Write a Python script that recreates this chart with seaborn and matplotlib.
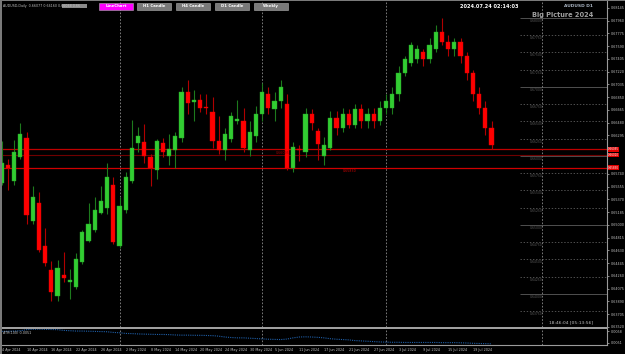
import numpy as np
import pandas as pd
import matplotlib
matplotlib.use("Agg")
import matplotlib.pyplot as plt
import matplotlib.transforms as mtrans
import seaborn as sns

# ---------------- data ----------------
opens = [0.6561, 0.6586, 0.6563, 0.6599, 0.6626, 0.6505, 0.6532, 0.6470, 0.6434, 0.6397,
         0.6427, 0.6417, 0.6410, 0.6446, 0.6476, 0.6493, 0.6517, 0.6524, 0.6558, 0.6470,
         0.6521, 0.6563, 0.6618, 0.6620, 0.6599, 0.6579, 0.6619, 0.6600, 0.6609, 0.6626,
         0.6693, 0.6678, 0.6681, 0.6670, 0.6664, 0.6622, 0.6608, 0.6625, 0.6650, 0.6651,
         0.6609, 0.6628, 0.6660, 0.6690, 0.6668, 0.6680, 0.6675, 0.6583, 0.6610, 0.6606,
         0.6660, 0.6636, 0.6600, 0.6612, 0.6655, 0.6640, 0.6660, 0.6645, 0.6668, 0.6650,
         0.6660, 0.6650, 0.6670, 0.6670, 0.6690, 0.6720, 0.6735, 0.6740, 0.6750, 0.6740,
         0.6755, 0.6780, 0.6765, 0.6755, 0.6765, 0.6745, 0.6720, 0.6690, 0.6670, 0.6640]
highs = [0.6621, 0.6595, 0.6623, 0.6647, 0.6635, 0.6556, 0.6547, 0.6496, 0.6447, 0.6449,
         0.6460, 0.6436, 0.6459, 0.6493, 0.6532, 0.6541, 0.6557, 0.6589, 0.6570, 0.6541,
         0.6576, 0.6652, 0.6642, 0.6646, 0.6602, 0.6625, 0.6626, 0.6631, 0.6634, 0.6700,
         0.6710, 0.6695, 0.6690, 0.6690, 0.6685, 0.6657, 0.6641, 0.6663, 0.6681, 0.6670,
         0.6650, 0.6672, 0.6705, 0.6700, 0.6692, 0.6710, 0.6690, 0.6620, 0.6616, 0.6670,
         0.6668, 0.6640, 0.6627, 0.6665, 0.6665, 0.6670, 0.6668, 0.6675, 0.6675, 0.6670,
         0.6670, 0.6680, 0.6690, 0.6700, 0.6730, 0.6745, 0.6765, 0.6760, 0.6755, 0.6770,
         0.6790, 0.6800, 0.6775, 0.6770, 0.6770, 0.6750, 0.6725, 0.6700, 0.6680, 0.6650]
lows = [0.6558, 0.6551, 0.6558, 0.6595, 0.6501, 0.6501, 0.6460, 0.6440, 0.6389, 0.6389,
        0.6417, 0.6392, 0.6407, 0.6443, 0.6475, 0.6489, 0.6515, 0.6515, 0.6472, 0.6467,
        0.6517, 0.6560, 0.6605, 0.6590, 0.6556, 0.6567, 0.6599, 0.6587, 0.6583, 0.6620,
        0.6660, 0.6651, 0.6664, 0.6661, 0.6612, 0.6602, 0.6594, 0.6620, 0.6646, 0.6605,
        0.6600, 0.6620, 0.6650, 0.6660, 0.6650, 0.6670, 0.6580, 0.6577, 0.6592, 0.6599,
        0.6638, 0.6594, 0.6587, 0.6609, 0.6630, 0.6635, 0.6640, 0.6640, 0.6640, 0.6640,
        0.6640, 0.6645, 0.6660, 0.6660, 0.6680, 0.6715, 0.6730, 0.6735, 0.6730, 0.6735,
        0.6750, 0.6760, 0.6745, 0.6745, 0.6735, 0.6710, 0.6680, 0.6660, 0.6630, 0.6610]
closes = [0.6590, 0.6582, 0.6606, 0.6631, 0.6514, 0.6540, 0.6464, 0.6444, 0.6402, 0.6437,
          0.6423, 0.6420, 0.6451, 0.6489, 0.6501, 0.6521, 0.6535, 0.6569, 0.6475, 0.6527,
          0.6569, 0.6612, 0.6628, 0.6600, 0.6582, 0.6622, 0.6606, 0.6610, 0.6629, 0.6693,
          0.6676, 0.6681, 0.6670, 0.6669, 0.6621, 0.6609, 0.6631, 0.6657, 0.6653, 0.6612,
          0.6635, 0.6660, 0.6692, 0.6670, 0.6680, 0.6700, 0.6583, 0.6613, 0.6608, 0.6660,
          0.6648, 0.6617, 0.6615, 0.6655, 0.6640, 0.6660, 0.6645, 0.6668, 0.6650, 0.6660,
          0.6650, 0.6670, 0.6680, 0.6690, 0.6720, 0.6740, 0.6760, 0.6755, 0.6740, 0.6760,
          0.6780, 0.6765, 0.6755, 0.6765, 0.6745, 0.6720, 0.6690, 0.6670, 0.6640, 0.6615]
atr_values = [0.00578, 0.00579, 0.00580, 0.00582, 0.00588, 0.00590, 0.00591, 0.00590, 0.00589, 0.00588,
              0.00584, 0.00582, 0.00580, 0.00580, 0.00579, 0.00578, 0.00577, 0.00576, 0.00572, 0.00570,
              0.00566, 0.00565, 0.00563, 0.00562, 0.00561, 0.00560, 0.00560, 0.00559, 0.00557, 0.00556,
              0.00556, 0.00555, 0.00555, 0.00554, 0.00553, 0.00550, 0.00545, 0.00542, 0.00540, 0.00540,
              0.00538, 0.00536, 0.00534, 0.00532, 0.00531, 0.00530, 0.00533, 0.00540, 0.00545, 0.00546,
              0.00545, 0.00543, 0.00540, 0.00535, 0.00532, 0.00530, 0.00528, 0.00524, 0.00522, 0.00520,
              0.00518, 0.00516, 0.00515, 0.00514, 0.00514, 0.00513, 0.00513, 0.00513, 0.00513, 0.00513,
              0.00513, 0.00512, 0.00512, 0.00512, 0.00511, 0.00510, 0.00508, 0.00507, 0.00506, 0.00505]
date_labels = ["4 Apr 2024", "10 Apr 2024", "16 Apr 2024", "22 Apr 2024", "26 Apr 2024",
               "2 May 2024", "8 May 2024", "14 May 2024", "20 May 2024", "24 May 2024",
               "30 May 2024", "5 Jun 2024", "11 Jun 2024", "17 Jun 2024", "21 Jun 2024",
               "27 Jun 2024", "3 Jul 2024", "9 Jul 2024", "15 Jul 2024", "19 Jul 2024"]
date_label_bars = [0, 4, 8, 12, 16, 20, 24, 28, 32, 36, 40, 44, 48, 52, 56, 60, 64, 68, 72, 76]
separator_bars = [19, 42, 62, 87.1]
# visible price-scale labels (the ones under the red price boxes are hidden)
price_ticks = [0.68145, 0.67960, 0.67775, 0.67590, 0.67405, 0.67220, 0.67035, 0.66850,
               0.66665, 0.66480, 0.66295, 0.65740, 0.65555, 0.65370,
               0.65185, 0.65000, 0.64815, 0.64630, 0.64445, 0.64260, 0.64075, 0.63890,
               0.63705, 0.63520]
round_levels = [0.6800, 0.6775, 0.6750, 0.6725, 0.6700, 0.6675, 0.6650, 0.6625, 0.6600,
                0.6575, 0.6550, 0.6525, 0.6500, 0.6475, 0.6450, 0.6425, 0.6400, 0.6375]
red_levels = [0.66095, 0.66010, 0.65830]
red_level_labels = ["0.66095", "0.66010", "0.65830"]
atr_ticks = [0.0058, 0.0051]

df = pd.DataFrame({"bar": np.arange(len(opens)), "open": opens, "high": highs,
                   "low": lows, "close": closes, "atr": atr_values})
df["up"] = df["close"] >= df["open"]

# ---------------- style ----------------
sns.set_theme(style="dark", rc={"axes.facecolor": "black", "figure.facecolor": "black"})
plt.rcParams["font.family"] = ["DejaVu Sans"]

W, H = 625, 354
AX_R = 607  # x pixel of the price-axis line
fig = plt.figure(figsize=(W / 100, H / 100), dpi=100)
fig.patch.set_facecolor("black")

ax = fig.add_axes([1 / W, 1 - 327 / H, (AX_R - 1) / W, 326 / H])
axi = fig.add_axes([1 / W, 1 - 345 / H, (AX_R - 1) / W, 17 / H], sharex=ax)

XL = (-0.113, (AX_R - 1.7) / 6.2)
YL = (0.63532, 0.68243)
ax.set_xlim(*XL)
ax.set_ylim(*YL)

GREEN = "#32CD32"
RED = "#FF0000"
gw = "#1d7a1d"
rw = "#b00000"
TXT = "#c0c0c0"
FS = 2.4

# wicks
ax.vlines(df["bar"], df["low"], df["high"],
          colors=[gw if u else rw for u in df["up"]], lw=0.8, zorder=3)
# bodies
body_bottom = np.minimum(df["open"], df["close"])
body_h = np.maximum(np.abs(df["close"] - df["open"]), 0.00012)
ax.bar(df["bar"], body_h, bottom=body_bottom, width=0.68,
       color=[GREEN if u else RED for u in df["up"]],
       edgecolor=["#27a327" if u else "#e00000" for u in df["up"]], lw=0.3, zorder=4)

# red horizontal levels
for lv, c, lw in zip(red_levels, ["#c00000", "#700000", "#d00000"], [0.9, 0.8, 0.9]):
    ax.axhline(lv, color=c, lw=lw, zorder=2)
ax.text(44.2, red_levels[0] - 0.00022, red_level_labels[0], color="#a00000", fontsize=2.3,
        va="top", ha="left", zorder=5)
ax.text(55.0, red_levels[2] - 0.00022, red_level_labels[2], color="#d00000", fontsize=2.3,
        va="top", ha="left", zorder=5)

# round-number levels in the right margin
for lv in round_levels:
    solid = abs(round(lv * 100) - lv * 100) < 1e-6
    ax.hlines(lv, 83.6, XL[1], colors="#707070", lw=0.5,
              linestyles="-" if solid else (0, (2, 2.5)), zorder=1)
    ax.text(85.2, lv - 0.00045, f"{lv:.5f}", color="#5c5c5c", fontsize=2.2,
            ha="left", va="center", zorder=2)

# vertical period separators
for sb in separator_bars:
    for a in (ax, axi):
        a.axvline(sb, color="#8c8c8c", lw=0.6, ls=(0, (2, 2)), zorder=1)

# right price axis
ax.yaxis.tick_right()
ax.set_yticks(price_ticks)
ax.set_yticklabels([f"{t:.5f}" for t in price_ticks])
ax.tick_params(axis="y", colors=TXT, labelsize=FS, length=1.5, width=0.5, pad=1)
ax.tick_params(axis="x", bottom=False, labelbottom=False)
for s in ["top", "left", "bottom"]:
    ax.spines[s].set_visible(False)
ax.spines["right"].set_color("#9a9a9a")
ax.spines["right"].set_linewidth(0.8)
ax.grid(False)

# red price boxes on the axis
tr = mtrans.blended_transform_factory(ax.transAxes, ax.transData)
for lv, lab in zip(red_levels, red_level_labels):
    ax.text(1.002, lv, lab, transform=tr, color="white", fontsize=2.0, va="center", ha="left",
            bbox=dict(boxstyle="square,pad=0.1", fc="#e00000", ec="none"), zorder=6,
            clip_on=False)

# ---------------- ATR sub-window ----------------
sns.lineplot(data=df, x="bar", y="atr", ax=axi, color="#1f5fa8", lw=0.8,
             linestyle=(0, (1, 1)), legend=False)
axi.set_ylim(0.00498, 0.00598)
axi.set_xlim(*XL)
axi.yaxis.tick_right()
axi.set_yticks(atr_ticks)
axi.set_yticklabels([f"{t:.4f}" for t in atr_ticks])
axi.tick_params(axis="y", colors=TXT, labelsize=FS, length=1.5, width=0.5, pad=1)
axi.set_xticks(date_label_bars)
axi.set_xticklabels(date_labels, ha="left")
axi.tick_params(axis="x", colors=TXT, labelsize=FS, length=1.5, width=0.5, pad=1)
axi.set_xlabel("")
axi.set_ylabel("")
axi.grid(False)
for s in ["top", "left"]:
    axi.spines[s].set_visible(False)
for s in ["right", "bottom"]:
    axi.spines[s].set_color("#9a9a9a")
    axi.spines[s].set_linewidth(0.8)
axi.text(0.004, 0.85, "ATR(100) 0.0051", transform=axi.transAxes, color=TXT,
         fontsize=2.4, va="top", ha="left")

# separator band between windows and outer frame lines
fig.add_artist(plt.Rectangle((0, 1 - 328.5 / H), AX_R / W, 2 / H, transform=fig.transFigure,
                             color="#a0a0a0", lw=0))
fig.add_artist(plt.Rectangle((0, 0), 1.6 / W, 1, transform=fig.transFigure, color="#7a7a7a", lw=0))
fig.add_artist(plt.Rectangle((0, 1 - 1.2 / H), 1, 1.2 / H, transform=fig.transFigure,
                             color="#7a7a7a", lw=0))

# ---------------- texts / buttons ----------------
fig.text(3 / W, 1 - 5.5 / H, "AUDUSD,Daily  0.66077 0.66160 0.66038 0.66",
         color=TXT, fontsize=2.3, va="center", ha="left")
fig.add_artist(plt.Rectangle((62 / W, 1 - 8 / H), 25 / W, 4.5 / H, transform=fig.transFigure,
                             color="#8a8a8a", lw=0))
buttons = [("LineChart", 99, "#ff00ff"), ("H1 Candle", 137, "#7a7a7a"),
           ("H4 Candle", 176, "#7a7a7a"), ("D1 Candle", 215, "#7a7a7a"),
           ("Weekly", 254, "#7a7a7a")]
for lab, x0, col in buttons:
    fig.add_artist(plt.Rectangle((x0 / W, 1 - 9.5 / H), 34 / W, 7 / H, transform=fig.transFigure,
                                 fc=col, ec="#b0b0b0", lw=0.4))
    fig.text((x0 + 17) / W, 1 - 6 / H, lab, color="white", fontsize=2.8, weight="bold",
             ha="center", va="center")

fig.text(518 / W, 1 - 6 / H, "2024.07.24 02:14:03", color="white", fontsize=3.6,
         weight="bold", ha="right", va="center")
fig.text(593 / W, 1 - 6 / H, "AUDUSD D1", color="#a9b4c2", fontsize=3.2, weight="bold",
         ha="right", va="center")
fig.text(593 / W, 1 - 15.5 / H, "Big Picture 2024", color="#a0a0a0", fontsize=4.8,
         weight="bold", ha="right", va="center")
fig.text(593 / W, 1 - 322.5 / H, "18:46:04 [05:13:56]", color=TXT, fontsize=3.2,
         ha="right", va="center")

fig.savefig("out.png", dpi=100, facecolor="black")
